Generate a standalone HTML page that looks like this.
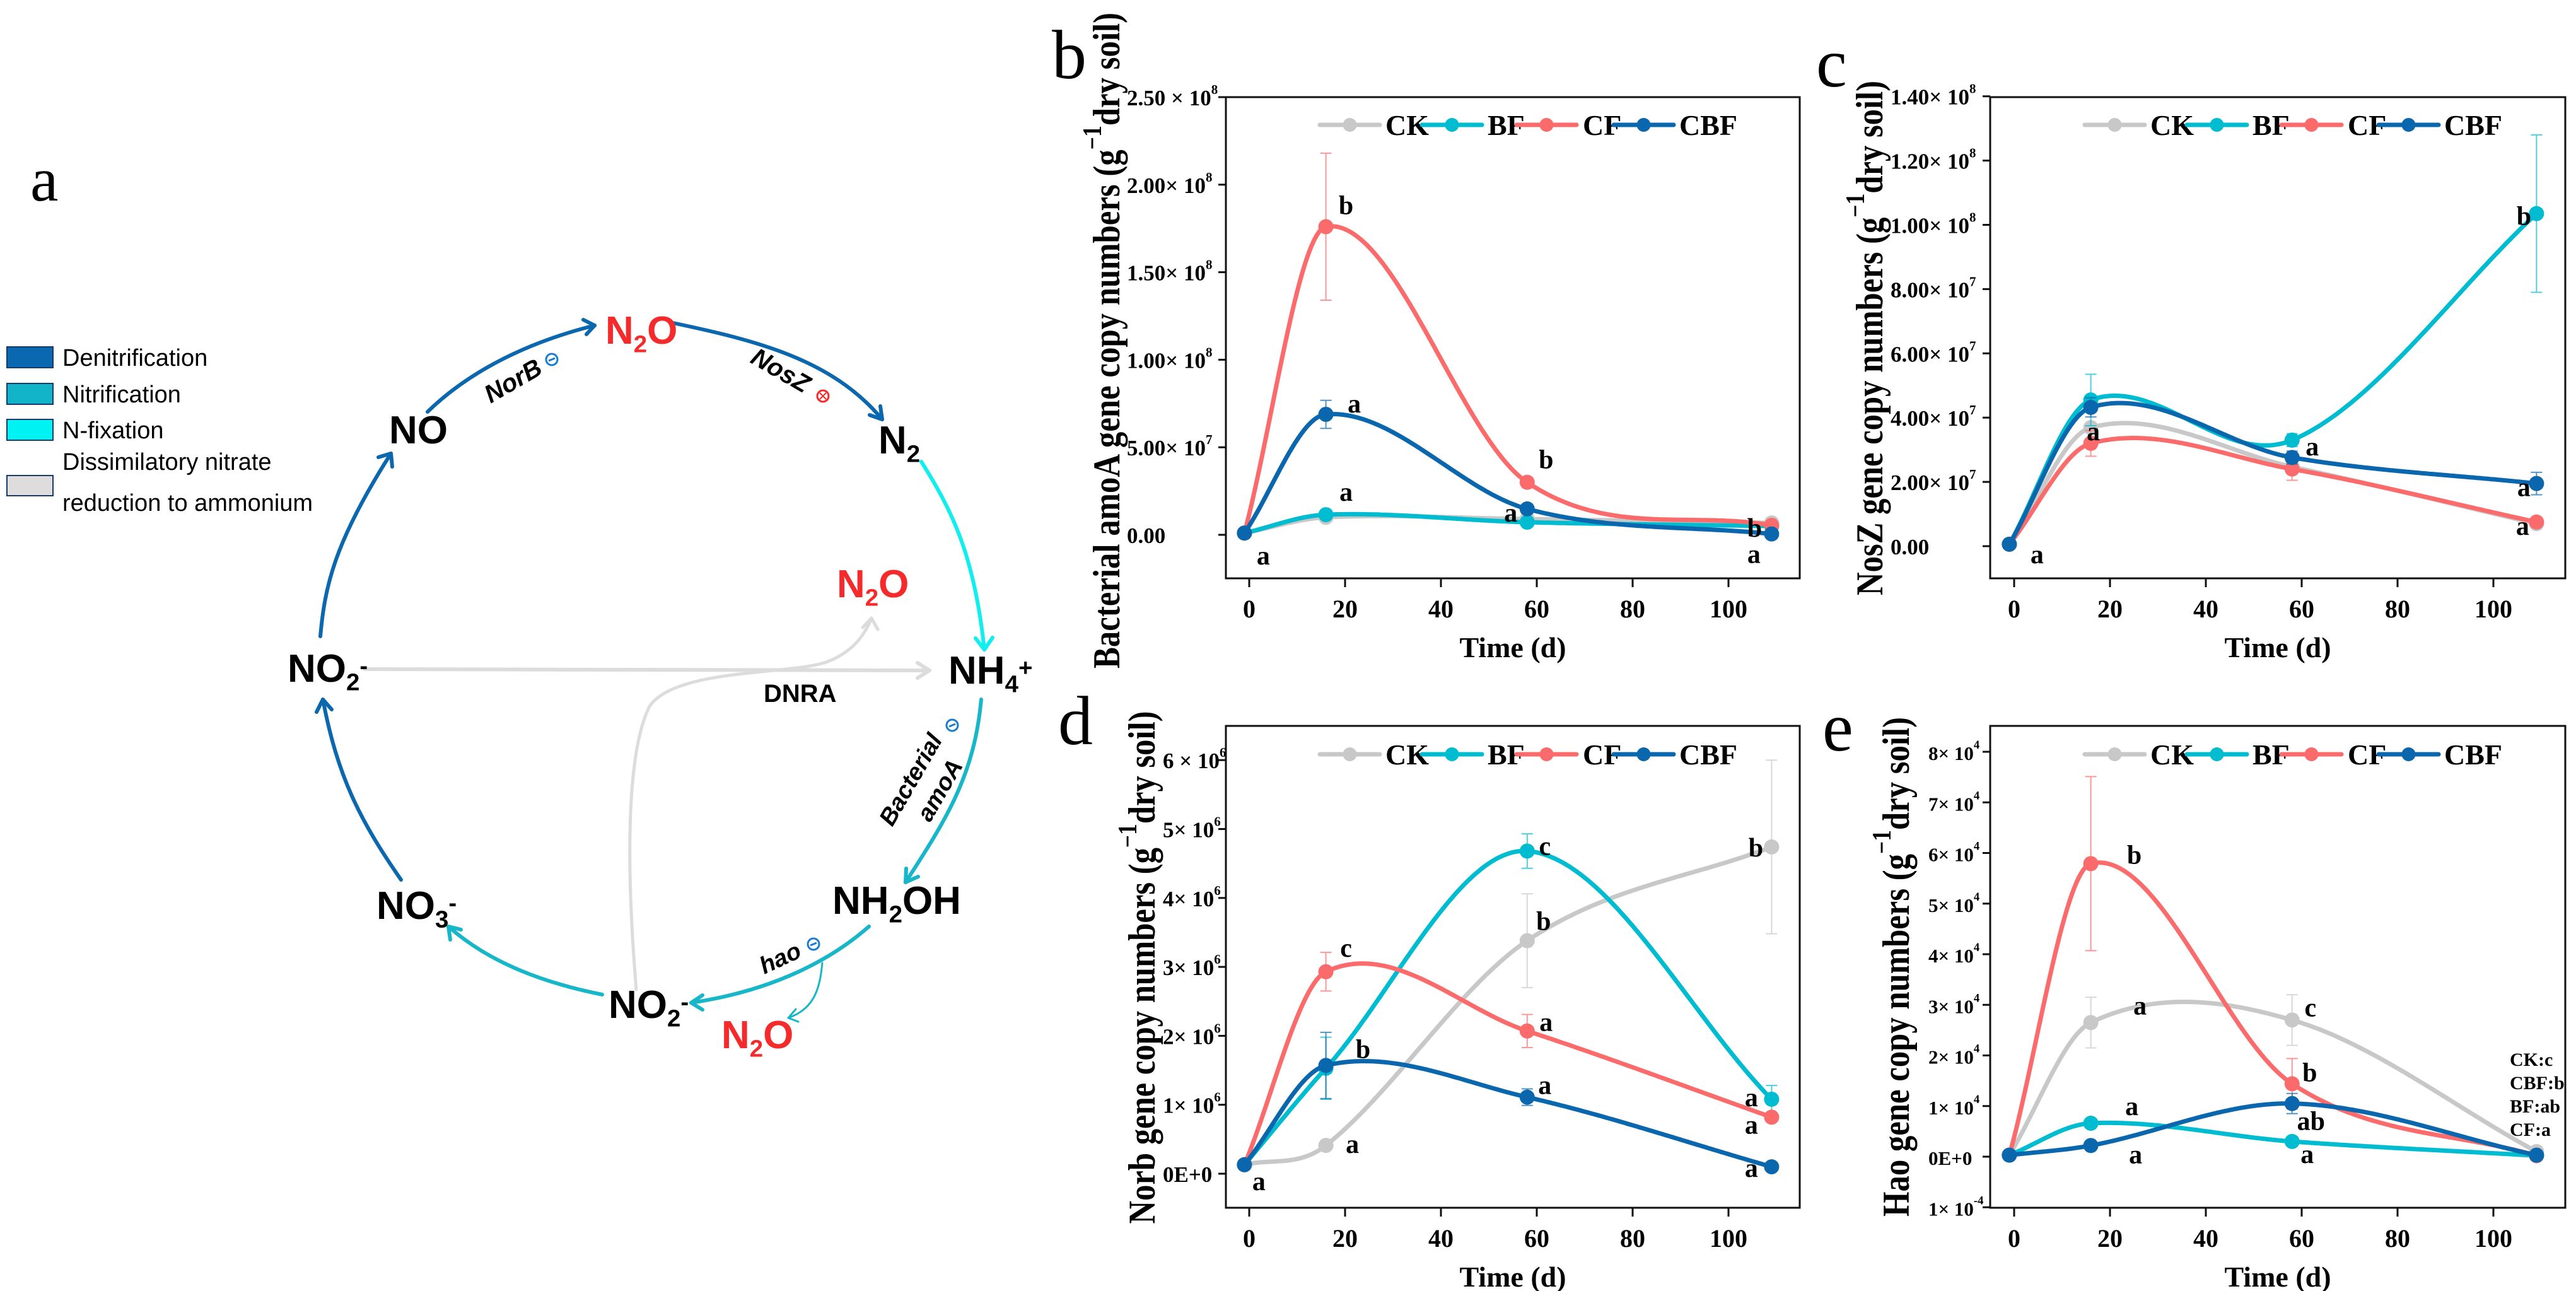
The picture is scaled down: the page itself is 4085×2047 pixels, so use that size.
<!DOCTYPE html>
<html><head><meta charset="utf-8"><style>
html,body{margin:0;padding:0;background:#fff}
svg{display:block}
.ser{font-family:"Liberation Serif",serif;font-weight:bold}
.sans{font-family:"Liberation Sans",sans-serif}
</style></head><body>
<svg id="fig" xmlns="http://www.w3.org/2000/svg" width="4085" height="2047" viewBox="0 0 4085 2047">
<rect width="4085" height="2047" fill="#fff"/>
<g id="diagram"></g>
<g id="charts"></g>
</svg>
<script>
// ---------- chart data ----------
var days = [-1, 16, 58, 109];
var seriesNames = ["CK", "BF", "CF", "CBF"];
// panel b: bacterial amoA (copies)
var bCK  = [1.0e6, 1.0e7, 9.0e6, 6.8e6];
var bBF  = [1.0e6, 1.15e7, 7.2e6, 5.0e6];
var bCF  = [1.0e6, 1.76e8, 3.0e7, 5.4e6];
var bCBF = [1.0e6, 6.88e7, 1.48e7, 5.0e5];
var bErrCF = [0, 4.2e7, 2.4e6, 1.0e6];
var bErrCBF = [0, 8.0e6, 1.0e6, 0];
var bTickVals = [0, 5e7, 1e8, 1.5e8, 2e8, 2.5e8];
var bTickMant = ["0.00", "5.00× 10", "1.00× 10", "1.50× 10", "2.00× 10", "2.50 × 10"];
var bTickExp = ["", "7", "8", "8", "8", "8"];
// panel c: NosZ
var cCK  = [6e5, 3.69e7, 2.47e7, 7.0e6];
var cBF  = [6e5, 4.55e7, 3.3e7, 1.035e8];
var cCF  = [6e5, 3.2e7, 2.4e7, 7.5e6];
var cCBF = [6e5, 4.32e7, 2.76e7, 1.95e7];
var cErrBF = [0, 8e6, 2e6, 2.45e7];
var cErrCF = [0, 4e6, 3.5e6, 1e6];
var cErrCBF = [0, 3e6, 2e6, 3.5e6];
var cTickVals = [0, 2e7, 4e7, 6e7, 8e7, 1e8, 1.2e8, 1.4e8];
var cTickMant = ["0.00", "2.00× 10", "4.00× 10", "6.00× 10", "8.00× 10", "1.00× 10", "1.20× 10", "1.40× 10"];
var cTickExp = ["", "7", "7", "7", "7", "8", "8", "8"];
// panel d: Norb
var dCK  = [1.3e5, 4.1e5, 3.38e6, 4.74e6];
var dBF  = [1.3e5, 1.53e6, 4.68e6, 1.08e6];
var dCF  = [1.3e5, 2.93e6, 2.07e6, 8.2e5];
var dCBF = [1.3e5, 1.57e6, 1.11e6, 1.0e5];
var dErrCK = [0, 5e4, 6.8e5, 1.26e6];
var dErrBF = [0, 4.5e5, 2.5e5, 2e5];
var dErrCF = [0, 2.8e5, 2.4e5, 5e4];
var dErrCBF = [0, 4.8e5, 1.2e5, 0];
var dTickVals = [0, 1e6, 2e6, 3e6, 4e6, 5e6, 6e6];
var dTickMant = ["0E+0", "1× 10", "2× 10", "3× 10", "4× 10", "5× 10", "6 × 10"];
var dTickExp = ["", "6", "6", "6", "6", "6", "6"];
// panel e: Hao
var eCK  = [300, 2.65e4, 2.7e4, 1000];
var eBF  = [300, 6600, 3000, 200];
var eCF  = [300, 5.79e4, 1.44e4, 200];
var eCBF = [300, 2200, 1.05e4, 300];
var eErrCK = [0, 5000, 5000, 0];
var eErrCF = [0, 1.72e4, 5000, 0];
var eErrCBF = [0, 500, 2000, 0];
var eTickVals = [-1e4, 0, 1e4, 2e4, 3e4, 4e4, 5e4, 6e4, 7e4, 8e4];
var eTickMant = ["1× 10", "0E+0", "1× 10", "2× 10", "3× 10", "4× 10", "5× 10", "6× 10", "7× 10", "8× 10"];
var eTickExp = ["-4", "", "4", "4", "4", "4", "4", "4", "4", "4"];
var xTickVals = [0, 20, 40, 60, 80, 100];
// significance letters: [series, pointIndex, letter]
var bLetters = [[0,0,"a"],[2,1,"b"],[3,1,"a"],[1,1,"a"],[2,2,"b"],[3,2,"a"],[2,3,"b"],[3,3,"a"]];
var cLetters = [[0,0,"a"],[0,1,"a"],[1,2,"a"],[1,3,"b"],[3,3,"a"],[2,3,"a"]];
var dLetters = [[0,0,"a"],[0,1,"a"],[2,1,"c"],[3,1,"b"],[1,2,"c"],[0,2,"b"],[2,2,"a"],[3,2,"a"],[0,3,"b"],[1,3,"a"],[2,3,"a"],[3,3,"a"]];
var eLetters = [[2,1,"b"],[0,1,"a"],[1,1,"a"],[3,1,"a"],[0,2,"c"],[2,2,"b"],[3,2,"ab"],[1,2,"a"]];
</script>
<script>
var NS = "http://www.w3.org/2000/svg";
var COLORS = ["#c8c8c8", "#00bcd0", "#fb6b6b", "#0b67ad"];
function mk(tag, attrs, parent) {
  var e = document.createElementNS(NS, tag);
  for (var k in attrs) e.setAttribute(k, attrs[k]);
  if (parent) parent.appendChild(e);
  return e;
}
// cubic Hermite (Catmull-Rom style tangents)
function spline(xs, ys) {
  var n = xs.length, m = [];
  for (var i = 0; i < n; i++) {
    if (i === 0) m[i] = (ys[1] - ys[0]) / (xs[1] - xs[0]);
    else if (i === n - 1) m[i] = (ys[n - 1] - ys[n - 2]) / (xs[n - 1] - xs[n - 2]);
    else m[i] = (ys[i + 1] - ys[i - 1]) / (xs[i + 1] - xs[i - 1]);
  }
  return function (x) {
    var i = 0;
    while (i < n - 2 && x > xs[i + 1]) i++;
    var h = xs[i + 1] - xs[i], t = (x - xs[i]) / h;
    var t2 = t * t, t3 = t2 * t;
    return (2 * t3 - 3 * t2 + 1) * ys[i] + (t3 - 2 * t2 + t) * h * m[i] + (-2 * t3 + 3 * t2) * ys[i + 1] + (t3 - t2) * h * m[i + 1];
  };
}
function drawPanel(P) {
  var g = mk("g", {}, document.getElementById("charts"));
  
  
  var X = function (v) { return P.x0 + v * 7.6; };
  var Y = function (v) { return P.y0 - v * P.ppu; };
  var fr = mk("rect", {x: P.L, y: P.T, width: P.R - P.L, height: P.B - P.T, fill: "none", stroke: "#111", "stroke-width": 3}, g);
  
  
  xTickVals.forEach(function (v) {
    var x = X(v);
    mk("line", {x1: x, x2: x, y1: P.B, y2: P.B + 14, stroke: "#111", "stroke-width": 3}, g);
    var t = mk("text", {x: x, y: P.B + 62, "text-anchor": "middle", "font-size": 40, "class": "ser"}, g);
    t.textContent = v;
    
    
  });
  var xt = mk("text", {x: (P.L + P.R) / 2, y: P.B + 125, "text-anchor": "middle", "font-size": 46, "class": "ser"}, g);
  xt.textContent = "Time (d)";
  
  
  P.tv.forEach(function (v, i) {
    var y = Y(v);
    mk("line", {x1: P.L - 12, x2: P.L, y1: y, y2: y, stroke: "#111", "stroke-width": 3}, g);
    var t = mk("text", {x: P.tlx, y: y + 13, "font-size": P.tfs, "class": "ser"}, g);
    
    
    t.appendChild(document.createTextNode(P.tm[i]));
    if (P.te[i]) {
      var s = mk("tspan", {"font-size": P.tfs * 0.6, dy: -18}, t);
      s.textContent = P.te[i];
    }
  });
  var yt = mk("text", {transform: "translate(" + P.ytx + "," + P.ytc + ") rotate(-90)", "text-anchor": "middle", "dominant-baseline": "central", "font-size": 60, "class": "ser", textLength: P.ytl, lengthAdjust: "spacingAndGlyphs"}, g);
  
  
  yt.appendChild(document.createTextNode(P.ytitle + " (g"));
  var sp = mk("tspan", {dy: -22, "font-size": 42}, yt); sp.textContent = "−1";
  var sp2 = mk("tspan", {dy: 22}, yt); sp2.textContent = "dry soil)";
  var pl = mk("text", {x: P.plx, y: P.ply, "font-size": 110, "font-family": "Liberation Serif, serif"}, g);
  pl.textContent = P.letter;
  
  
  P.series.forEach(function (vals, si) {
    var sg = mk("g", {}, g);
    
    
    var f = spline(days, vals);
    var d = "";
    for (var k = 0; k <= 220; k++) {
      var xv = days[0] + (days[3] - days[0]) * k / 220;
      d += (k ? "L" : "M") + X(xv).toFixed(1) + "," + Y(f(xv)).toFixed(1);
    }
    var err = P.errs[si];
    if (err) err.forEach(function (e, i) {
      if (!e) return;
      var x = X(days[i]), y1 = Y(vals[i] - e), y2 = Y(vals[i] + e);
      var eb = mk("path", {d: "M" + x + "," + y1 + "V" + y2 + "M" + (x - 9) + "," + y1 + "h18M" + (x - 9) + "," + y2 + "h18", stroke: COLORS[si], "stroke-width": 2, fill: "none", opacity: 0.7}, sg);
      
      
    });
    var ln = mk("path", {d: d, fill: "none", stroke: COLORS[si], "stroke-width": 7, "stroke-linejoin": "round"}, sg);
    
    
    vals.forEach(function (v, i) {
      var c = mk("circle", {cx: X(days[i]), cy: Y(v), r: 12, fill: COLORS[si]}, sg);
      
      
    });
  });
  P.letters.forEach(function (L, i) {
    var v = P.series[L[0]][L[1]];
    var off = P.loff[i];
    var t = mk("text", {x: X(days[L[1]]) + off[0], y: Y(v) + off[1], "text-anchor": "middle", "font-size": 42, "class": "ser"}, g);
    t.textContent = L[2];
    
    
  });
  var lg = mk("g", {}, g);
  
  
  var lx = P.legX, ly = P.legY;
  var segs = [[0, 95, "CK", 104], [162, 95, "BF", 266], [312, 95, "CF", 417], [466, 95, "CBF", 570]];
  segs.forEach(function (s, i) {
    var e = mk("g", {}, lg);
    
    
    mk("line", {x1: lx + s[0], x2: lx + s[0] + s[1], y1: ly, y2: ly, stroke: COLORS[i], "stroke-width": 7, "stroke-linecap": "round"}, e);
    mk("circle", {cx: lx + s[0] + s[1] / 2, cy: ly, r: 11, fill: COLORS[i]}, e);
    var t = mk("text", {x: lx + s[3], y: ly + 16, "font-size": 46, "class": "ser"}, e);
    t.textContent = s[2];
  });
}
drawPanel({name: "panel-b-amoa-chart", letter: "b", L: 1944, R: 2854, T: 154, B: 917, x0: 1981, y0: 848, ppu: 694 / 2.5e8,
  tv: bTickVals, tm: bTickMant, te: bTickExp, tlx: 1787, tfs: 35, ytitle: "Bacterial amoA gene copy numbers", ytx: 1755, ytc: 540, ytl: 1040,
  plx: 1668, ply: 124, series: [bCK, bBF, bCF, bCBF], errs: [null, null, bErrCF, bErrCBF], letters: bLetters,
  loff: [[30, 50], [32, -20], [45, -3], [32, -22], [30, -22], [-26, 20], [-27, 18], [-28, 46]], legX: 2093, legY: 198});
drawPanel({name: "panel-c-nosz-chart", letter: "c", L: 3156, R: 4068, T: 154, B: 917, x0: 3194, y0: 866, ppu: 101.9 / 2e7,
  tv: cTickVals, tm: cTickMant, te: cTickExp, tlx: 2998, tfs: 35, ytitle: "NosZ gene copy numbers", ytx: 2965, ytc: 536, ytl: 816,
  plx: 2880, ply: 137, series: [cCK, cBF, cCF, cCBF], errs: [null, cErrBF, cErrCF, cErrCBF], letters: cLetters,
  loff: [[44, 30], [4, 20], [32, 24], [-20, 18], [-20, 20], [-22, 20]], legX: 3306, legY: 198});
drawPanel({name: "panel-d-norb-chart", letter: "d", L: 1944, R: 2854, T: 1151, B: 1915, x0: 1981, y0: 1861, ppu: 109.3 / 1e6,
  tv: dTickVals, tm: dTickMant, te: dTickExp, tlx: 1844, tfs: 35, ytitle: "Norb gene copy numbers", ytx: 1811, ytc: 1534, ytl: 813,
  plx: 1678, ply: 1180, series: [dCK, dBF, dCF, dCBF], errs: [dErrCK, dErrBF, dErrCF, dErrCBF], letters: dLetters,
  loff: [[23, 40], [42, 12], [32, -24], [59, -12], [28, 6], [26, -17], [30, 0], [28, -5], [-25, 15], [-32, 11], [-32, 26], [-32, 16]], legX: 2093, legY: 1196});
drawPanel({name: "panel-e-hao-chart", letter: "e", L: 3156, R: 4068, T: 1151, B: 1915, x0: 3194, y0: 1834, ppu: 80.25 / 1e4,
  tv: eTickVals, tm: eTickMant, te: eTickExp, tlx: 3058, tfs: 31, ytitle: "Hao gene copy numbers", ytx: 3007, ytc: 1533, ytl: 792,
  plx: 2890, ply: 1190, series: [eCK, eBF, eCF, eCBF], errs: [eErrCK, null, eErrCF, eErrCBF], letters: eLetters,
  loff: [[69, 0], [78, -13], [65, -13], [71, 28], [29, -6], [28, -4], [30, 42], [24, 34]], legX: 3306, legY: 1196});
var sumTxt = ["CK:c", "CBF:b", "BF:ab", "CF:a"];
sumTxt.forEach(function (s, i) {
  var t = mk("text", {x: 3980, y: 1690 + i * 37, "font-size": 30, "class": "ser"}, document.getElementById("charts"));
  t.textContent = s;
  
  
});

// ---------- diagram (panel a) ----------
var D = document.getElementById("diagram");
function arrow(d, color, w, name, head) {
  var p = mk("path", {d: d, fill: "none", stroke: color, "stroke-width": w, "stroke-linecap": "round"}, D);
  
  
  if (head) mk("path", {d: head, fill: "none", stroke: color, "stroke-width": w, "stroke-linecap": "round", "stroke-linejoin": "round"}, D);
}
var DB = "#0b68ae", NT = "#17b6c9", NF = "#10eef0", GR = "#dcdcdc";
arrow("M508,1009 C515,930 530,860 620,719", DB, 6, "arrow-no2-to-no", "M600,725 L620,719 L622,740");
arrow("M678,653 C720,612 800,552 943,516", DB, 6, "arrow-no-to-n2o", "M925,507 L943,516 L930,530");
arrow("M1067,512 C1200,540 1320,570 1399,665", DB, 6, "arrow-n2o-to-n2", "M1379,658 L1399,665 L1396,644");
arrow("M1461,732 C1510,810 1545,880 1561,1030", NF, 6, "arrow-n2-to-nh4", "M1547,1012 L1561,1030 L1574,1011");
arrow("M1556,1109 C1545,1230 1500,1300 1436,1399", NT, 6, "arrow-nh4-to-nh2oh", "M1437,1377 L1436,1399 L1456,1390");
arrow("M1378,1469 C1320,1520 1230,1570 1096,1590", NT, 6, "arrow-nh2oh-to-no2", "M1114,1578 L1096,1590 L1114,1601");
arrow("M1304,1527 C1300,1570 1290,1600 1250,1614", NT, 3, "arrow-to-n2o-byproduct", "M1262,1600 L1250,1614 L1266,1620");
arrow("M955,1577 C870,1560 780,1530 711,1469", NT, 6, "arrow-no2-to-no3", "M714,1490 L711,1469 L731,1474");
arrow("M636,1395 C570,1300 535,1230 512,1109", DB, 6, "arrow-no3-to-no2", "M502,1129 L512,1109 L526,1125");
arrow("M578,1061 L1474,1063", GR, 6, "arrow-dnra", "M1455,1051 L1474,1063 L1455,1075");
arrow("M1009,1569 C995,1400 990,1200 1030,1120 C1070,1060 1250,1070 1310,1050 C1350,1035 1370,1010 1382,980", GR, 5, "arrow-no2-to-n2o-dnra", "M1368,995 L1382,980 L1392,998");
function dt(x, y, fs, parts, name, color, extra) {
  var t = mk("text", Object.assign({x: x, y: y, "font-size": fs, "font-weight": "bold", "class": "sans", fill: color || "#000"}, extra || {}), D);
  
  
  parts.forEach(function (p) {
    var s = mk("tspan", {}, t);
    if (p[1] === "sub") { s.setAttribute("font-size", fs * 0.62); s.setAttribute("dy", fs * 0.22); }
    if (p[1] === "sup") { s.setAttribute("font-size", fs * 0.62); s.setAttribute("dy", -fs * 0.42); }
    if (p[1] === "back") { s.setAttribute("dy", p[2]); }
    s.textContent = p[0];
  });
  return t;
}
dt(960, 545, 62, [["N"], ["2", "sub"], ["O", "back", -13.6]], "n2o-top", "#f52a2a");
dt(617, 703, 62, [["NO"]], "no-label");
dt(1393, 719, 62, [["N"], ["2", "sub"]], "n2-label");
dt(1327, 947, 62, [["N"], ["2", "sub"], ["O", "back", -13.6]], "n2o-middle", "#f52a2a");
dt(456, 1081, 62, [["NO"], ["2", "sub"], ["-", "sup"]], "no2-left");
dt(1504, 1084, 62, [["NH"], ["4", "sub"], ["+", "sup"]], "nh4-label");
dt(1211, 1113, 40, [["DNRA"]], "dnra-label");
dt(597, 1457, 62, [["NO"], ["3", "sub"], ["-", "sup"]], "no3-label");
dt(1320, 1449, 62, [["NH"], ["2", "sub"], ["OH", "back", -13.6]], "nh2oh-label");
dt(965, 1614, 62, [["NO"], ["2", "sub"], ["-", "sup"]], "no2-bottom");
dt(1144, 1662, 62, [["N"], ["2", "sub"], ["O", "back", -13.6]], "n2o-bottom", "#f52a2a");
dt(0, 0, 40, [["NorB"]], "norb-label", "#000", {transform: "translate(778,640) rotate(-30)", "font-style": "italic"});
dt(0, 0, 40, [["NosZ"]], "nosz-label", "#000", {transform: "translate(1188,574) rotate(30)", "font-style": "italic"});
dt(0, 0, 38, [["Bacterial"]], "bacterial-label", "#000", {transform: "translate(1415,1312) rotate(-60)", "font-style": "italic"});
dt(0, 0, 38, [["amoA"]], "amoa-label", "#000", {transform: "translate(1475,1305) rotate(-60)", "font-style": "italic"});
dt(0, 0, 38, [["hao"]], "hao-label", "#000", {transform: "translate(1212,1545) rotate(-25)", "font-style": "italic"});
[[875, 570, "#1a7cd0", "minus"], [1305, 628, "#f52a2a", "x"], [1510, 1150, "#1a7cd0", "minus"], [1290, 1497, "#1a7cd0", "minus"]].forEach(function (m) {
  var g = mk("g", {}, D);
  
  
  mk("circle", {cx: m[0], cy: m[1], r: 9, fill: "none", stroke: m[2], "stroke-width": 3}, g);
  if (m[3] === "minus") mk("line", {x1: m[0] - 5, x2: m[0] + 5, y1: m[1] + 2, y2: m[1] - 2, stroke: m[2], "stroke-width": 3}, g);
  else mk("path", {d: "M" + (m[0] - 5) + "," + (m[1] - 5) + "l10,10M" + (m[0] + 5) + "," + (m[1] - 5) + "l-10,10", stroke: m[2], "stroke-width": 2}, g);
});
var legItems = [["Denitrification", "#0a68b0", 550], ["Nitrification", "#12b5c8", 608], ["N-fixation", "#00f2f2", 665]];
legItems.forEach(function (it) {
  var g = mk("g", {}, D);
  
  
  mk("rect", {x: 11, y: it[2], width: 73, height: 33, fill: it[1], stroke: "#163a6a", "stroke-width": 2}, g);
  var t = mk("text", {x: 99, y: it[2] + 30, "font-size": 38, "class": "sans"}, g);
  t.textContent = it[0];
});
var g4 = mk("g", {}, D);


mk("rect", {x: 11, y: 754, width: 73, height: 32, fill: "#dedcdc", stroke: "#163a6a", "stroke-width": 2}, g4);
var t1 = mk("text", {x: 99, y: 745, "font-size": 38, "class": "sans"}, g4); t1.textContent = "Dissimilatory nitrate";
var t2 = mk("text", {x: 99, y: 810, "font-size": 38, "class": "sans"}, g4); t2.textContent = "reduction to ammonium";
var pa = mk("text", {x: 48, y: 318, "font-size": 100, "font-family": "Liberation Serif, serif"}, D);
pa.textContent = "a";


</script>
</body></html>
